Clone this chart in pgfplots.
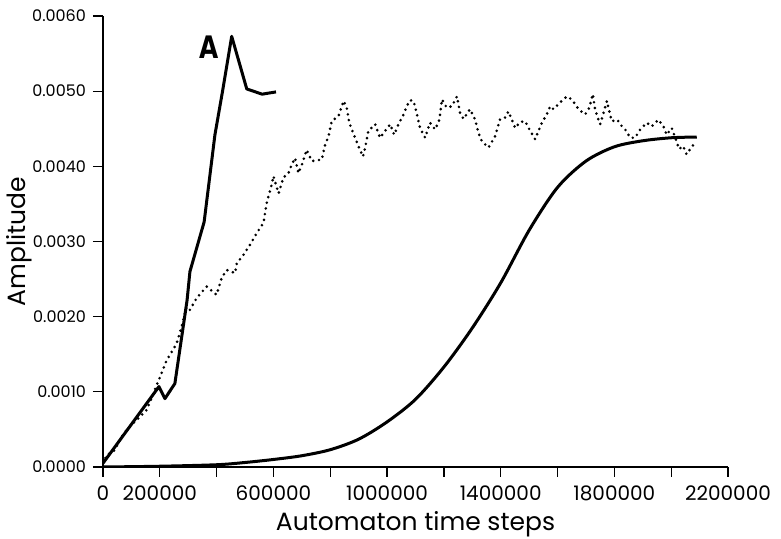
\documentclass[border=0pt]{standalone}
\usepackage{fontspec}
\setmainfont{Poppins}
\newfontfamily\panelfont{DejaVu Sans}
\usepackage{pgfplots}
\pgfplotsset{compat=1.18}

\begin{document}
\begin{tikzpicture}
\path[use as bounding box] (-51.5pt,-36pt) rectangle (339pt,233.5pt);
\begin{axis}[
  width=312.5pt, height=225.5pt, scale only axis,
  xmin=0, xmax=2200000, ymin=0, ymax=0.006,
  enlargelimits=false,
  axis lines=left,
  axis line style={-, line width=0.7pt},
  tick style={line width=0.6pt, black},
  tick align=outside,
  major tick length=5pt,
  xtick={0,200000,...,2200000},
  xticklabels={0,200000,,600000,,1000000,,1400000,,1800000,,2200000},
  ytick={0,0.001,...,0.006},
  yticklabels={0.0000,0.0010,0.0020,0.0030,0.0040,0.0050,0.0060},
  scaled x ticks=false, scaled y ticks=false,
  xticklabel style={font=\fontsize{10}{12}\selectfont, yshift=-1pt},
  yticklabel style={font=\fontsize{8}{10}\selectfont},
  xlabel={Automaton time steps},
  ylabel={Amplitude},
  label style={font=\fontsize{12.5}{14}\selectfont},
  xlabel style={yshift=1.5pt},
  ylabel style={yshift=-7pt},
]
% growth curve, run A
\addplot[black, line width=1.5pt, line join=round] coordinates {
  (0,0.00005) (197000,0.00107) (218000,0.00091) (253000,0.00111)
  (296000,0.00222) (306000,0.00260) (356000,0.00326) (394000,0.00442)
  (419000,0.00496) (453000,0.00573) (506000,0.00503) (560000,0.00496)
  (609000,0.00499)};
% sigmoid fit
\addplot[black, line width=1.5pt, smooth] coordinates {
  (0,0.0) (200000,0.00001) (400000,0.00003) (500000,0.00006)
  (600000,0.0001) (700000,0.00015) (800000,0.00023) (900000,0.00037)
  (1000000,0.0006) (1100000,0.0009) (1200000,0.00133) (1300000,0.00185)
  (1400000,0.00245) (1500000,0.00315) (1600000,0.00372) (1700000,0.00407)
  (1800000,0.00426) (1900000,0.00434) (2000000,0.00438) (2090000,0.00439)};
% simulated amplitude
\addplot[black, line width=1.45pt, line cap=round, dash pattern=on 0pt off 2.9pt] coordinates {
  (0,0.00005) (13000,0.000156) (40000,0.00022) (72000,0.000444) (106000,0.00058)
  (154000,0.00076) (201000,0.0012) (224000,0.00142) (259000,0.00164)
  (277000,0.00187) (294000,0.00213) (306000,0.00209) (330000,0.00225)
  (365000,0.0024) (400000,0.00229) (418000,0.00252) (436000,0.00262)
  (465000,0.00258) (471000,0.00271) (494000,0.00282) (518000,0.00296)
  (541000,0.00311) (565000,0.00325) (576000,0.00351) (594000,0.00376)
  (600000,0.00387) (618000,0.00364) (635000,0.00385) (653000,0.00391)
  (664000,0.00402) (676000,0.00411) (688000,0.00391) (700000,0.00402)
  (717000,0.00422) (735000,0.00407) (770000,0.00409) (782000,0.00429)
  (794000,0.0044) (805000,0.0046) (829000,0.00467) (847000,0.00487)
  (858000,0.00478) (867000,0.00458) (881000,0.00444) (899000,0.00427)
  (915000,0.00413) (923000,0.00425) (934000,0.00447) (958000,0.00456)
  (975000,0.00438) (993000,0.00447) (1011000,0.00456) (1025000,0.00442)
  (1040000,0.00456) (1058000,0.00469) (1069000,0.0048) (1081000,0.00488)
  (1093000,0.00487) (1104000,0.00471) (1116000,0.00451) (1134000,0.00438)
  (1151000,0.00458) (1169000,0.00449) (1184000,0.00462) (1193000,0.00489)
  (1210000,0.00478) (1228000,0.0048) (1246000,0.00493) (1257000,0.00471)
  (1269000,0.00463) (1292000,0.00476) (1310000,0.00462) (1322000,0.00444)
  (1334000,0.00433) (1357000,0.00425) (1380000,0.0044) (1398000,0.00463)
  (1416000,0.00465) (1427000,0.00473) (1439000,0.00462) (1451000,0.00451)
  (1468000,0.00459) (1486000,0.0046) (1504000,0.00447) (1521000,0.00436)
  (1533000,0.00447) (1545000,0.00458) (1562000,0.00469) (1574000,0.0048)
  (1586000,0.00476) (1609000,0.00485) (1633000,0.00493) (1650000,0.00489)
  (1674000,0.00476) (1697000,0.00469) (1712000,0.00478) (1724000,0.00496)
  (1732000,0.00476) (1744000,0.00462) (1750000,0.00456) (1762000,0.00471)
  (1774000,0.00487) (1779000,0.00478) (1791000,0.0046) (1811000,0.00462)
  (1820000,0.00456) (1838000,0.00449) (1856000,0.00438) (1873000,0.00438)
  (1891000,0.00449) (1914000,0.00458) (1931000,0.00453) (1955000,0.00462)
  (1973000,0.00453) (1984000,0.00442) (2002000,0.00451) (2019000,0.00433)
  (2028000,0.00423) (2042000,0.00427) (2054000,0.00416) (2077000,0.00428)};
\node[font={\panelfont\bfseries\fontsize{15.5}{16}\selectfont}, xscale=0.8] at (axis cs:373000,0.00558) {A};
\end{axis}
\end{tikzpicture}
\end{document}
